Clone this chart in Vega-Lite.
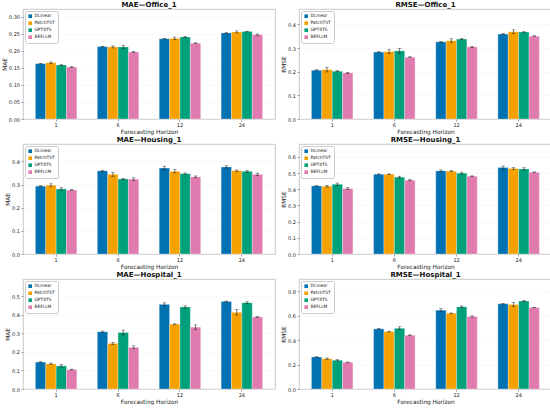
{
  "$schema": "https://vega.github.io/schema/vega-lite/v6.json",
  "padding": {"left": 0, "top": 0, "right": 0, "bottom": 0},
  "data": {
    "values": [
      {"panel": "MAE—Office_1", "horizon": 1, "model": "DLinear", "value": 0.162, "err": 0.001},
      {"panel": "MAE—Office_1", "horizon": 1, "model": "PatchTST", "value": 0.165, "err": 0.002},
      {"panel": "MAE—Office_1", "horizon": 1, "model": "GPT4TS", "value": 0.158, "err": 0.001},
      {"panel": "MAE—Office_1", "horizon": 1, "model": "BEFLLM", "value": 0.152, "err": 0.001},
      {"panel": "MAE—Office_1", "horizon": 6, "model": "DLinear", "value": 0.212, "err": 0.001},
      {"panel": "MAE—Office_1", "horizon": 6, "model": "PatchTST", "value": 0.211, "err": 0.003},
      {"panel": "MAE—Office_1", "horizon": 6, "model": "GPT4TS", "value": 0.211, "err": 0.005},
      {"panel": "MAE—Office_1", "horizon": 6, "model": "BEFLLM", "value": 0.196, "err": 0.002},
      {"panel": "MAE—Office_1", "horizon": 12, "model": "DLinear", "value": 0.235, "err": 0.001},
      {"panel": "MAE—Office_1", "horizon": 12, "model": "PatchTST", "value": 0.236, "err": 0.004},
      {"panel": "MAE—Office_1", "horizon": 12, "model": "GPT4TS", "value": 0.24, "err": 0.002},
      {"panel": "MAE—Office_1", "horizon": 12, "model": "BEFLLM", "value": 0.222, "err": 0.001},
      {"panel": "MAE—Office_1", "horizon": 24, "model": "DLinear", "value": 0.252, "err": 0.001},
      {"panel": "MAE—Office_1", "horizon": 24, "model": "PatchTST", "value": 0.255, "err": 0.003},
      {"panel": "MAE—Office_1", "horizon": 24, "model": "GPT4TS", "value": 0.256, "err": 0.001},
      {"panel": "MAE—Office_1", "horizon": 24, "model": "BEFLLM", "value": 0.247, "err": 0.002},

      {"panel": "RMSE—Office_1", "horizon": 1, "model": "DLinear", "value": 0.206, "err": 0.002},
      {"panel": "RMSE—Office_1", "horizon": 1, "model": "PatchTST", "value": 0.209, "err": 0.01},
      {"panel": "RMSE—Office_1", "horizon": 1, "model": "GPT4TS", "value": 0.202, "err": 0.002},
      {"panel": "RMSE—Office_1", "horizon": 1, "model": "BEFLLM", "value": 0.195, "err": 0.002},
      {"panel": "RMSE—Office_1", "horizon": 6, "model": "DLinear", "value": 0.283, "err": 0.002},
      {"panel": "RMSE—Office_1", "horizon": 6, "model": "PatchTST", "value": 0.285, "err": 0.008},
      {"panel": "RMSE—Office_1", "horizon": 6, "model": "GPT4TS", "value": 0.288, "err": 0.01},
      {"panel": "RMSE—Office_1", "horizon": 6, "model": "BEFLLM", "value": 0.261, "err": 0.002},
      {"panel": "RMSE—Office_1", "horizon": 12, "model": "DLinear", "value": 0.326, "err": 0.002},
      {"panel": "RMSE—Office_1", "horizon": 12, "model": "PatchTST", "value": 0.331, "err": 0.008},
      {"panel": "RMSE—Office_1", "horizon": 12, "model": "GPT4TS", "value": 0.338, "err": 0.002},
      {"panel": "RMSE—Office_1", "horizon": 12, "model": "BEFLLM", "value": 0.305, "err": 0.002},
      {"panel": "RMSE—Office_1", "horizon": 24, "model": "DLinear", "value": 0.359, "err": 0.002},
      {"panel": "RMSE—Office_1", "horizon": 24, "model": "PatchTST", "value": 0.369, "err": 0.008},
      {"panel": "RMSE—Office_1", "horizon": 24, "model": "GPT4TS", "value": 0.368, "err": 0.002},
      {"panel": "RMSE—Office_1", "horizon": 24, "model": "BEFLLM", "value": 0.35, "err": 0.002},

      {"panel": "MAE—Housing_1", "horizon": 1, "model": "DLinear", "value": 0.293, "err": 0.002},
      {"panel": "MAE—Housing_1", "horizon": 1, "model": "PatchTST", "value": 0.297, "err": 0.006},
      {"panel": "MAE—Housing_1", "horizon": 1, "model": "GPT4TS", "value": 0.281, "err": 0.005},
      {"panel": "MAE—Housing_1", "horizon": 1, "model": "BEFLLM", "value": 0.276, "err": 0.002},
      {"panel": "MAE—Housing_1", "horizon": 6, "model": "DLinear", "value": 0.359, "err": 0.003},
      {"panel": "MAE—Housing_1", "horizon": 6, "model": "PatchTST", "value": 0.344, "err": 0.009},
      {"panel": "MAE—Housing_1", "horizon": 6, "model": "GPT4TS", "value": 0.324, "err": 0.003},
      {"panel": "MAE—Housing_1", "horizon": 6, "model": "BEFLLM", "value": 0.323, "err": 0.006},
      {"panel": "MAE—Housing_1", "horizon": 12, "model": "DLinear", "value": 0.371, "err": 0.008},
      {"panel": "MAE—Housing_1", "horizon": 12, "model": "PatchTST", "value": 0.357, "err": 0.007},
      {"panel": "MAE—Housing_1", "horizon": 12, "model": "GPT4TS", "value": 0.347, "err": 0.003},
      {"panel": "MAE—Housing_1", "horizon": 12, "model": "BEFLLM", "value": 0.333, "err": 0.004},
      {"panel": "MAE—Housing_1", "horizon": 24, "model": "DLinear", "value": 0.376, "err": 0.005},
      {"panel": "MAE—Housing_1", "horizon": 24, "model": "PatchTST", "value": 0.36, "err": 0.003},
      {"panel": "MAE—Housing_1", "horizon": 24, "model": "GPT4TS", "value": 0.357, "err": 0.004},
      {"panel": "MAE—Housing_1", "horizon": 24, "model": "BEFLLM", "value": 0.344, "err": 0.005},

      {"panel": "RMSE—Housing_1", "horizon": 1, "model": "DLinear", "value": 0.421, "err": 0.002},
      {"panel": "RMSE—Housing_1", "horizon": 1, "model": "PatchTST", "value": 0.419, "err": 0.005},
      {"panel": "RMSE—Housing_1", "horizon": 1, "model": "GPT4TS", "value": 0.431, "err": 0.008},
      {"panel": "RMSE—Housing_1", "horizon": 1, "model": "BEFLLM", "value": 0.405, "err": 0.005},
      {"panel": "RMSE—Housing_1", "horizon": 6, "model": "DLinear", "value": 0.493, "err": 0.002},
      {"panel": "RMSE—Housing_1", "horizon": 6, "model": "PatchTST", "value": 0.493, "err": 0.002},
      {"panel": "RMSE—Housing_1", "horizon": 6, "model": "GPT4TS", "value": 0.475, "err": 0.006},
      {"panel": "RMSE—Housing_1", "horizon": 6, "model": "BEFLLM", "value": 0.456, "err": 0.004},
      {"panel": "RMSE—Housing_1", "horizon": 12, "model": "DLinear", "value": 0.514, "err": 0.006},
      {"panel": "RMSE—Housing_1", "horizon": 12, "model": "PatchTST", "value": 0.512, "err": 0.003},
      {"panel": "RMSE—Housing_1", "horizon": 12, "model": "GPT4TS", "value": 0.5, "err": 0.006},
      {"panel": "RMSE—Housing_1", "horizon": 12, "model": "BEFLLM", "value": 0.481, "err": 0.002},
      {"panel": "RMSE—Housing_1", "horizon": 24, "model": "DLinear", "value": 0.534, "err": 0.01},
      {"panel": "RMSE—Housing_1", "horizon": 24, "model": "PatchTST", "value": 0.528, "err": 0.006},
      {"panel": "RMSE—Housing_1", "horizon": 24, "model": "GPT4TS", "value": 0.526, "err": 0.007},
      {"panel": "RMSE—Housing_1", "horizon": 24, "model": "BEFLLM", "value": 0.505, "err": 0.002},

      {"panel": "MAE—Hospital_1", "horizon": 1, "model": "DLinear", "value": 0.145, "err": 0.002},
      {"panel": "MAE—Hospital_1", "horizon": 1, "model": "PatchTST", "value": 0.136, "err": 0.004},
      {"panel": "MAE—Hospital_1", "horizon": 1, "model": "GPT4TS", "value": 0.125, "err": 0.007},
      {"panel": "MAE—Hospital_1", "horizon": 1, "model": "BEFLLM", "value": 0.105, "err": 0.002},
      {"panel": "MAE—Hospital_1", "horizon": 6, "model": "DLinear", "value": 0.309, "err": 0.004},
      {"panel": "MAE—Hospital_1", "horizon": 6, "model": "PatchTST", "value": 0.246, "err": 0.006},
      {"panel": "MAE—Hospital_1", "horizon": 6, "model": "GPT4TS", "value": 0.305, "err": 0.013},
      {"panel": "MAE—Hospital_1", "horizon": 6, "model": "BEFLLM", "value": 0.225, "err": 0.008},
      {"panel": "MAE—Hospital_1", "horizon": 12, "model": "DLinear", "value": 0.457, "err": 0.008},
      {"panel": "MAE—Hospital_1", "horizon": 12, "model": "PatchTST", "value": 0.35, "err": 0.002},
      {"panel": "MAE—Hospital_1", "horizon": 12, "model": "GPT4TS", "value": 0.443, "err": 0.006},
      {"panel": "MAE—Hospital_1", "horizon": 12, "model": "BEFLLM", "value": 0.334, "err": 0.012},
      {"panel": "MAE—Hospital_1", "horizon": 24, "model": "DLinear", "value": 0.473, "err": 0.002},
      {"panel": "MAE—Hospital_1", "horizon": 24, "model": "PatchTST", "value": 0.414, "err": 0.015},
      {"panel": "MAE—Hospital_1", "horizon": 24, "model": "GPT4TS", "value": 0.466, "err": 0.005},
      {"panel": "MAE—Hospital_1", "horizon": 24, "model": "BEFLLM", "value": 0.389, "err": 0.002},

      {"panel": "RMSE—Hospital_1", "horizon": 1, "model": "DLinear", "value": 0.262, "err": 0.002},
      {"panel": "RMSE—Hospital_1", "horizon": 1, "model": "PatchTST", "value": 0.248, "err": 0.006},
      {"panel": "RMSE—Hospital_1", "horizon": 1, "model": "GPT4TS", "value": 0.235, "err": 0.005},
      {"panel": "RMSE—Hospital_1", "horizon": 1, "model": "BEFLLM", "value": 0.219, "err": 0.002},
      {"panel": "RMSE—Hospital_1", "horizon": 6, "model": "DLinear", "value": 0.492, "err": 0.002},
      {"panel": "RMSE—Hospital_1", "horizon": 6, "model": "PatchTST", "value": 0.47, "err": 0.003},
      {"panel": "RMSE—Hospital_1", "horizon": 6, "model": "GPT4TS", "value": 0.497, "err": 0.012},
      {"panel": "RMSE—Hospital_1", "horizon": 6, "model": "BEFLLM", "value": 0.44, "err": 0.003},
      {"panel": "RMSE—Hospital_1", "horizon": 12, "model": "DLinear", "value": 0.645, "err": 0.012},
      {"panel": "RMSE—Hospital_1", "horizon": 12, "model": "PatchTST", "value": 0.62, "err": 0.002},
      {"panel": "RMSE—Hospital_1", "horizon": 12, "model": "GPT4TS", "value": 0.672, "err": 0.007},
      {"panel": "RMSE—Hospital_1", "horizon": 12, "model": "BEFLLM", "value": 0.593, "err": 0.005},
      {"panel": "RMSE—Hospital_1", "horizon": 24, "model": "DLinear", "value": 0.697, "err": 0.003},
      {"panel": "RMSE—Hospital_1", "horizon": 24, "model": "PatchTST", "value": 0.691, "err": 0.015},
      {"panel": "RMSE—Hospital_1", "horizon": 24, "model": "GPT4TS", "value": 0.719, "err": 0.005},
      {"panel": "RMSE—Hospital_1", "horizon": 24, "model": "BEFLLM", "value": 0.667, "err": 0.002}
    ]
  },
  "columns": 2,
  "spacing": {"row": 0, "column": 4},
  "resolve": {"legend": {"color": "independent"}},
  "concat": [
    {
      "title": "MAE—Office_1",
      "width": 252,
      "height": 110,
      "transform": [{"filter": "datum.panel == 'MAE—Office_1'"}],
      "encoding": {
        "x": {"field": "horizon", "type": "ordinal", "title": "Forecasting Horizon", "scale": {"paddingInner": 0.33, "paddingOuter": 0.2}},
        "xOffset": {"field": "model", "sort": ["DLinear", "PatchTST", "GPT4TS", "BEFLLM"], "scale": {"paddingInner": 0}},
        "y": {"field": "value", "type": "quantitative", "title": "MAE", "scale": {"domain": [0, 0.322], "nice": false}, "axis": {"values": [0, 0.05, 0.1, 0.15, 0.2, 0.25, 0.3], "format": ".2f"}}
      },
      "layer": [
        {"mark": {"type": "bar", "stroke": "white", "strokeWidth": 0.3},
         "encoding": {"color": {"field": "model", "sort": ["DLinear", "PatchTST", "GPT4TS", "BEFLLM"], "scale": {"range": ["#0072B2", "#F5A100", "#00A07A", "#E07BB0"]}, "legend": {"title": null}}}},
        {"mark": {"type": "errorbar", "color": "#222", "thickness": 0.6, "ticks": {"size": 3.5, "thickness": 0.6}},
         "encoding": {"yError": {"field": "err"}}}
      ]
    },
    {
      "title": "RMSE—Office_1",
      "width": 253,
      "height": 110,
      "transform": [{"filter": "datum.panel == 'RMSE—Office_1'"}],
      "encoding": {
        "x": {"field": "horizon", "type": "ordinal", "title": "Forecasting Horizon", "scale": {"paddingInner": 0.33, "paddingOuter": 0.2}},
        "xOffset": {"field": "model", "sort": ["DLinear", "PatchTST", "GPT4TS", "BEFLLM"], "scale": {"paddingInner": 0}},
        "y": {"field": "value", "type": "quantitative", "title": "RMSE", "scale": {"domain": [0, 0.465], "nice": false}, "axis": {"values": [0, 0.1, 0.2, 0.3, 0.4], "format": ".1f"}}
      },
      "layer": [
        {"mark": {"type": "bar", "stroke": "white", "strokeWidth": 0.3},
         "encoding": {"color": {"field": "model", "sort": ["DLinear", "PatchTST", "GPT4TS", "BEFLLM"], "scale": {"range": ["#0072B2", "#F5A100", "#00A07A", "#E07BB0"]}, "legend": {"title": null}}}},
        {"mark": {"type": "errorbar", "color": "#222", "thickness": 0.6, "ticks": {"size": 3.5, "thickness": 0.6}},
         "encoding": {"yError": {"field": "err"}}}
      ]
    },
    {
      "title": "MAE—Housing_1",
      "width": 252,
      "height": 110,
      "transform": [{"filter": "datum.panel == 'MAE—Housing_1'"}],
      "encoding": {
        "x": {"field": "horizon", "type": "ordinal", "title": "Forecasting Horizon", "scale": {"paddingInner": 0.33, "paddingOuter": 0.2}},
        "xOffset": {"field": "model", "sort": ["DLinear", "PatchTST", "GPT4TS", "BEFLLM"], "scale": {"paddingInner": 0}},
        "y": {"field": "value", "type": "quantitative", "title": "MAE", "scale": {"domain": [0, 0.475], "nice": false}, "axis": {"values": [0, 0.1, 0.2, 0.3, 0.4], "format": ".1f"}}
      },
      "layer": [
        {"mark": {"type": "bar", "stroke": "white", "strokeWidth": 0.3},
         "encoding": {"color": {"field": "model", "sort": ["DLinear", "PatchTST", "GPT4TS", "BEFLLM"], "scale": {"range": ["#0072B2", "#F5A100", "#00A07A", "#E07BB0"]}, "legend": {"title": null}}}},
        {"mark": {"type": "errorbar", "color": "#222", "thickness": 0.6, "ticks": {"size": 3.5, "thickness": 0.6}},
         "encoding": {"yError": {"field": "err"}}}
      ]
    },
    {
      "title": "RMSE—Housing_1",
      "width": 253,
      "height": 110,
      "transform": [{"filter": "datum.panel == 'RMSE—Housing_1'"}],
      "encoding": {
        "x": {"field": "horizon", "type": "ordinal", "title": "Forecasting Horizon", "scale": {"paddingInner": 0.33, "paddingOuter": 0.2}},
        "xOffset": {"field": "model", "sort": ["DLinear", "PatchTST", "GPT4TS", "BEFLLM"], "scale": {"paddingInner": 0}},
        "y": {"field": "value", "type": "quantitative", "title": "RMSE", "scale": {"domain": [0, 0.68], "nice": false}, "axis": {"values": [0, 0.1, 0.2, 0.3, 0.4, 0.5, 0.6], "format": ".1f"}}
      },
      "layer": [
        {"mark": {"type": "bar", "stroke": "white", "strokeWidth": 0.3},
         "encoding": {"color": {"field": "model", "sort": ["DLinear", "PatchTST", "GPT4TS", "BEFLLM"], "scale": {"range": ["#0072B2", "#F5A100", "#00A07A", "#E07BB0"]}, "legend": {"title": null}}}},
        {"mark": {"type": "errorbar", "color": "#222", "thickness": 0.6, "ticks": {"size": 3.5, "thickness": 0.6}},
         "encoding": {"yError": {"field": "err"}}}
      ]
    },
    {
      "title": "MAE—Hospital_1",
      "width": 252,
      "height": 110,
      "transform": [{"filter": "datum.panel == 'MAE—Hospital_1'"}],
      "encoding": {
        "x": {"field": "horizon", "type": "ordinal", "title": "Forecasting Horizon", "scale": {"paddingInner": 0.33, "paddingOuter": 0.2}},
        "xOffset": {"field": "model", "sort": ["DLinear", "PatchTST", "GPT4TS", "BEFLLM"], "scale": {"paddingInner": 0}},
        "y": {"field": "value", "type": "quantitative", "title": "MAE", "scale": {"domain": [0, 0.594], "nice": false}, "axis": {"values": [0, 0.1, 0.2, 0.3, 0.4, 0.5], "format": ".1f"}}
      },
      "layer": [
        {"mark": {"type": "bar", "stroke": "white", "strokeWidth": 0.3},
         "encoding": {"color": {"field": "model", "sort": ["DLinear", "PatchTST", "GPT4TS", "BEFLLM"], "scale": {"range": ["#0072B2", "#F5A100", "#00A07A", "#E07BB0"]}, "legend": {"title": null}}}},
        {"mark": {"type": "errorbar", "color": "#222", "thickness": 0.6, "ticks": {"size": 3.5, "thickness": 0.6}},
         "encoding": {"yError": {"field": "err"}}}
      ]
    },
    {
      "title": "RMSE—Hospital_1",
      "width": 253,
      "height": 110,
      "transform": [{"filter": "datum.panel == 'RMSE—Hospital_1'"}],
      "encoding": {
        "x": {"field": "horizon", "type": "ordinal", "title": "Forecasting Horizon", "scale": {"paddingInner": 0.33, "paddingOuter": 0.2}},
        "xOffset": {"field": "model", "sort": ["DLinear", "PatchTST", "GPT4TS", "BEFLLM"], "scale": {"paddingInner": 0}},
        "y": {"field": "value", "type": "quantitative", "title": "RMSE", "scale": {"domain": [0, 0.9], "nice": false}, "axis": {"values": [0, 0.2, 0.4, 0.6, 0.8], "format": ".1f"}}
      },
      "layer": [
        {"mark": {"type": "bar", "stroke": "white", "strokeWidth": 0.3},
         "encoding": {"color": {"field": "model", "sort": ["DLinear", "PatchTST", "GPT4TS", "BEFLLM"], "scale": {"range": ["#0072B2", "#F5A100", "#00A07A", "#E07BB0"]}, "legend": {"title": null}}}},
        {"mark": {"type": "errorbar", "color": "#222", "thickness": 0.6, "ticks": {"size": 3.5, "thickness": 0.6}},
         "encoding": {"yError": {"field": "err"}}}
      ]
    }
  ],
  "config": {
    "font": "DejaVu Sans",
    "view": {"stroke": "#bbb", "strokeWidth": 0.8},
    "title": {"fontSize": 7, "fontWeight": "bold", "offset": 1.5, "color": "#111"},
    "axis": {"labelFontSize": 5, "titleFontSize": 5.8, "titleFontWeight": "normal", "labelColor": "#222", "titleColor": "#222",
             "tickSize": 2, "tickColor": "#444", "tickWidth": 0.5, "labelPadding": 1.5, "titlePadding": 1, "domain": false},
    "axisX": {"grid": false, "labelAngle": 0},
    "axisY": {"gridColor": "#e6e6e6", "gridDash": [2, 2], "gridWidth": 0.5},
    "legend": {"orient": "top-left", "offset": 2, "labelFontSize": 4.4, "symbolType": "square", "symbolSize": 13,
               "rowPadding": 1, "padding": 3, "strokeColor": "#ccc", "fillColor": "white", "cornerRadius": 1.5,
               "symbolStrokeWidth": 0, "labelOffset": 2, "labelColor": "#222"}
  }
}
